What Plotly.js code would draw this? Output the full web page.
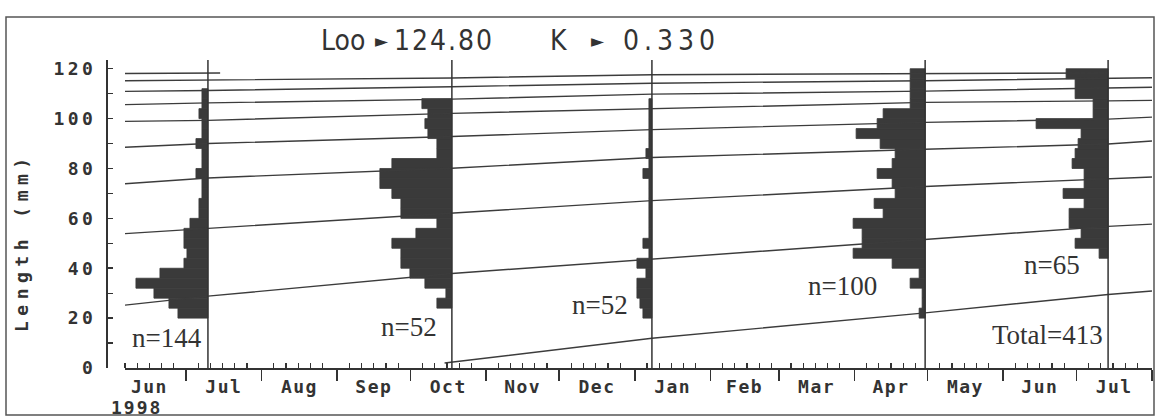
<!DOCTYPE html>
<html>
<head>
<meta charset="utf-8">
<script src="https://cdn.plot.ly/plotly-3.0.1.min.js"></script>
<style>
  html, body { margin:0; padding:0; background:#fff; }
  #chart { width:1156px; height:417px; }
  .xtick text { letter-spacing: 1.5px; }
  .ytick text { letter-spacing: 3.5px; }
  text[data-unformatted="1998"] { letter-spacing: 2px; }
  text[data-unformatted="Length (mm)"] { letter-spacing: 5.5px; }
  text[data-unformatted="124.80"] { letter-spacing: 2px; }
  text[data-unformatted="0.330"] { letter-spacing: 5px; }
</style>
</head>
<body>
<div id="chart"></div>
<script>
// ---------------- DATA ----------------
const growthParams = { Loo: "124.80", K: "0.330" };

// sampling dates and sample sizes
const sampleDates = ["1998-07-10", "1998-10-18", "1999-01-08", "1999-04-30", "1999-07-14"];
const sampleN = [144, 52, 52, 100, 65];
const totalN = 413;

// length-frequency histograms: lower bin edges (mm, 4 mm classes) and bar lengths (relative units)
const bins1 = [20,24,28,32,36,40,44,48,52,56,60,64,68,72,76,80,84,88,92,96,100,104,108];
const freq1 = [10,13,18,24,16,8,7,8,8,6,3,3,2,2,4,2,2,4,2,2,3,2,2];

const bins2 = [24,28,32,36,40,44,48,52,56,60,64,68,72,76,80,84,88,92,96,100,104];
const freq2 = [5,2,9,14,17,17,20,12,5,17,17,20,24,24,20,5,5,8,9,8,10];

const bins3 = [20,24,28,32,36,40,44,48,52,56,60,64,68,72,76,80,84,88,92,96,100,104];
const freq3 = [3,4,5,5,2,5,1,3,1,1,1,1,1,1,3,1,2,1,1,1,1,1];

const bins4 = [20,24,28,32,36,40,44,48,52,56,60,64,68,72,76,80,84,88,92,96,100,104,108,112,116];
const freq4 = [2,1,1,5,2,11,24,21,21,24,14,17,10,11,16,11,10,15,23,16,14,5,5,5,5];

const bins5 = [44,48,52,56,60,64,68,72,76,80,84,88,92,96,100,104,108,112,116];
const freq5 = [3,11,9,13,13,8,15,8,8,12,11,10,9,24,5,5,11,11,14];

// growth curves (cohorts)
const curveDates = ["1998-06-06", "1998-07-10", "1998-10-18", "1999-01-08", "1999-04-30", "1999-07-14", "1999-08-01"];
const cohort9Dates = ["1998-06-06", "1998-07-15"];
const cohort9 = [118.1, 118.3];
const cohort8 = [115.2, 115.5, 116.3, 117.6, 117.9, 118.3];
const cohort7 = [110.9, 111.3, 112.8, 114.2, 115.2, 116.1, 116.4];
const cohort6 = [105.6, 106.3, 107.8, 109.8, 111.0, 112.3, 112.6];
const cohort5 = [98.9, 99.3, 102.1, 103.9, 106.5, 107.1, 107.3];
const cohort4 = [88.5, 90.0, 92.8, 95.6, 98.5, 99.8, 100.6];
const cohort3 = [73.9, 76.2, 80.1, 84.4, 87.7, 89.8, 91.0];
const cohort2 = [53.9, 56.0, 62.1, 67.1, 72.8, 76.0, 76.6];
const cohort1 = [25.2, 28.8, 37.9, 43.6, 51.5, 56.8, 57.7];
const cohort0Dates = ["1998-10-15", "1999-01-08", "1999-04-30", "1999-07-14", "1999-08-01"];
const cohort0 = [2.0, 11.9, 22.1, 29.5, 30.9];

const yTicks = [0, 20, 40, 60, 80, 100, 120];
const yMinorTicks = [10, 30, 50, 70, 90, 110];

// ---------------- STYLE ----------------
const INK = "#333333";
const BAR = "#3a3a3a";
const DAY_MS = 86400000;
const DAYS_PER_UNIT = 1.23;   // horizontal scale of the frequency bars
const W = 1156, H = 417, ML = 106, MR = 4, MT = 60, MB = 49;
const PW = W - ML - MR, PH = H - MT - MB;
const px = X => (X - ML) / PW;
const py = Y => (H - MB - Y) / PH;

const histBins = [bins1, bins2, bins3, bins4, bins5];
const histFreq = [freq1, freq2, freq3, freq4, freq5];

const traces = [];

// growth curves
const cohorts = [
  [cohort9Dates, cohort9],
  [curveDates.slice(0, 6), cohort8],
  [curveDates, cohort7],
  [curveDates, cohort6],
  [curveDates, cohort5],
  [curveDates, cohort4],
  [curveDates, cohort3],
  [curveDates, cohort2],
  [curveDates, cohort1],
  [cohort0Dates, cohort0]
];
cohorts.forEach(([d, v]) => {
  traces.push({ type: "scatter", mode: "lines", x: d, y: v,
    line: { color: "#3c3c3c", width: 1.4 }, hoverinfo: "skip", showlegend: false });
});

// histograms, bars drawn leftwards from each sampling date
histBins.forEach((b, i) => {
  traces.push({
    type: "bar", orientation: "h",
    y: b.map(e => e + 2),
    x: histFreq[i].map(f => -f * DAYS_PER_UNIT * DAY_MS),
    base: b.map(() => sampleDates[i]),
    width: 4,
    marker: { color: BAR, line: { color: BAR, width: 0.8 } },
    hoverinfo: "skip", showlegend: false
  });
});

// minor ticks on x: 6th, 11th, 16th, 21st, 26th of each month
const minorX = [];
for (let k = 0; k < 15; k++) {
  const y = 1998 + Math.floor((5 + k) / 12), m = (5 + k) % 12;
  [6, 11, 16, 21, 26].forEach(d => {
    minorX.push(`${y}-${String(m + 1).padStart(2, "0")}-${String(d).padStart(2, "0")}`);
  });
}

const shapes = sampleDates.map(d => ({
  type: "line", xref: "x", yref: "y", x0: d, x1: d, y0: 0, y1: 123.5,
  line: { color: INK, width: 1.5 }
}));
shapes.push({ type: "rect", xref: "paper", yref: "paper",
  x0: px(6), x1: px(1154), y0: py(415), y1: py(17),
  line: { color: "#555", width: 1.5 }, fillcolor: "rgba(0,0,0,0)" });

const titleFont = { family: "Liberation Sans Narrow, DejaVu Sans Condensed, Arial Narrow, sans-serif", size: 28, color: INK };
const symFont = { family: "DejaVu Sans", size: 17, color: INK };
const serif = { family: "Liberation Serif, Times New Roman, serif", size: 27, color: INK };
const mono = { family: "DejaVu Sans Mono, monospace", size: 18, color: INK, weight: "bold" };

const ann = (text, X, Y, font, extra) => Object.assign({
  text, xref: "paper", yref: "paper", x: px(X), y: py(Y),
  xanchor: "center", yanchor: "middle", showarrow: false, font
}, extra || {});

const nCenters = [[166.5, 338], [408.5, 327], [600, 305], [842, 286], [1052, 265]];
const annotations = [
  ann("Loo", 343, 40, titleFont),
  ann("\u25BA", 382, 41, symFont),
  ann(growthParams.Loo, 444, 40, titleFont),
  ann("K", 559, 40, titleFont),
  ann("\u25BA", 598, 41, symFont),
  ann(growthParams.K, 671, 40, titleFont),
  ann("1998", 136, 407, mono),
  ann("Length (mm)", 22, 242, mono, { textangle: -90 }),
  ann("Total=" + totalN, 1047, 335, serif)
];
sampleN.forEach((n, i) => annotations.push(ann("n=" + n, nCenters[i][0], nCenters[i][1], serif)));

const layout = {
  width: W, height: H,
  margin: { l: ML, r: MR, t: MT, b: MB, pad: 0 },
  paper_bgcolor: "#fff", plot_bgcolor: "#fff",
  showlegend: false, barmode: "overlay",
  xaxis: {
    type: "date", range: ["1998-06-06", "1999-08-01"],
    domain: [px(125), 1], anchor: "y",
    tick0: "1998-07-01", dtick: "M1", ticklabelmode: "period", tickformat: "%b",
    ticks: "outside", ticklen: 11, tickwidth: 1.5, tickcolor: INK,
    ticklabelstandoff: -9,
    showline: true, linecolor: INK, linewidth: 1.5,
    showgrid: false, zeroline: false,
    minor: { tickmode: "array", tickvals: minorX, ticks: "inside", ticklen: 5, tickwidth: 1.2, tickcolor: INK, showgrid: false },
    tickfont: mono, fixedrange: true
  },
  yaxis: {
    range: [0, 123.5], anchor: "free", position: 0,
    tickmode: "array", tickvals: yTicks, ticktext: yTicks.map(String),
    ticks: "inside", ticklen: 5, tickwidth: 1.5, tickcolor: INK,
    minor: { tickmode: "array", tickvals: yMinorTicks, ticks: "inside", ticklen: 5, tickwidth: 1.2, tickcolor: INK, showgrid: false },
    showline: true, linecolor: INK, linewidth: 1.5,
    showgrid: false, zeroline: false,
    ticklabelstandoff: 6,
    tickfont: mono, fixedrange: true
  },
  shapes, annotations
};

Plotly.newPlot("chart", traces, layout, { staticPlot: true, displayModeBar: false });
</script>
</body>
</html>
